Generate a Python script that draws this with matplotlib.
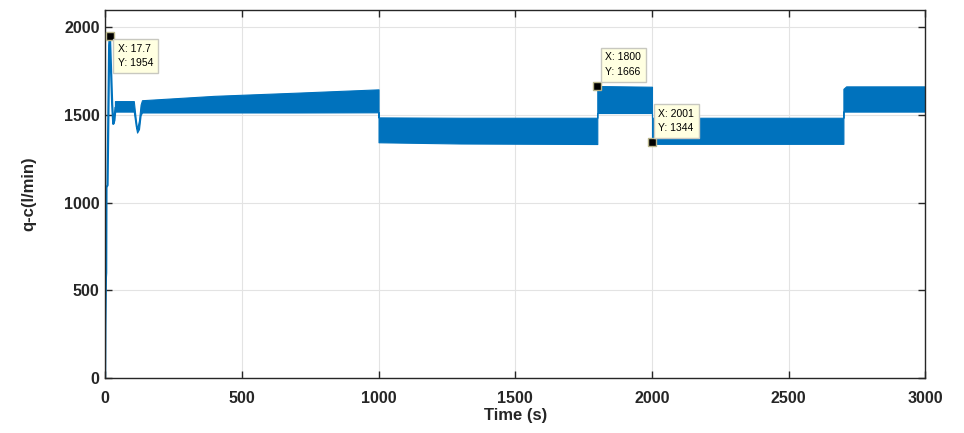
import numpy as np
import matplotlib
matplotlib.use("Agg")
import matplotlib.pyplot as plt

plt.rcParams['font.family'] = ['Liberation Sans', 'DejaVu Sans']

# start-up transient (single line)
t_start = [0, 1, 3, 4, 5, 9, 12, 15, 17.7, 22, 26, 30, 34, 38]
q_start = [0, 300, 575, 600, 1088, 1100, 1500, 1900, 1954, 1750, 1560, 1450, 1470, 1540]

# oscillating part, drawn as band between lower and upper envelope
t_band = [36, 105, 112, 117, 124, 130, 135, 400, 700, 1000, 1000, 1300, 1800,
          1800, 2000, 2000, 2008, 2300, 2700, 2700, 2710, 3000]
q_low = [1520, 1520, 1440, 1400, 1420, 1500, 1515, 1515, 1515, 1516, 1345, 1338, 1335,
         1512, 1512, 1344, 1336, 1336, 1336, 1520, 1520, 1520]
q_high = [1580, 1580, 1480, 1420, 1470, 1560, 1585, 1610, 1628, 1647, 1487, 1485, 1485,
          1666, 1662, 1485, 1485, 1485, 1485, 1650, 1664, 1664]

# data tips: x, y, offset in pixels, vertical alignment
tip_x = [17.7, 1800, 2001]
tip_y = [1954, 1666, 1344]
tip_lbl = ["X: 17.7\nY: 1954", "X: 1800\nY: 1666", "X: 2001\nY: 1344"]
tip_off = [(8, -8), (8, 9), (6, 9)]
tip_va = ['top', 'bottom', 'bottom']

col = '#0072BD'

fig = plt.figure(figsize=(9.64, 4.33), dpi=100)
ax = fig.add_axes([0.109, 0.127, 0.851, 0.850])

ax.plot(t_start, q_start, color=col, lw=1.6)
ax.fill_between(t_band, q_low, q_high, color=col, lw=0.8, edgecolor=col)

for x, y, s, off, va in zip(tip_x, tip_y, tip_lbl, tip_off, tip_va):
    ax.plot(x, y, 's', ms=6, mfc='black', mec='#b8b48a', mew=1, zorder=5)
    ax.annotate(s, (x, y), xytext=off, textcoords='offset pixels', ha='left', va=va,
                fontsize=7.5, linespacing=1.6, zorder=6,
                bbox=dict(boxstyle='square,pad=0.45', fc='#ffffe1', ec='#c8c8c0', lw=1))

ax.set_xlim(0, 3000)
ax.set_ylim(0, 2100)
ax.set_xticks(np.arange(0, 3001, 500))
ax.set_yticks(np.arange(0, 2001, 500))
ax.grid(True, color='#e3e3e3', lw=0.8)
ax.set_axisbelow(True)
ax.tick_params(direction='in', top=True, right=True, length=5, width=1, labelsize=11.5, colors='#262626')
ax.tick_params(axis='x', pad=9)
ax.tick_params(axis='y', pad=4)
for lab in ax.get_xticklabels() + ax.get_yticklabels():
    lab.set_fontweight('bold')
for sp in ax.spines.values():
    sp.set_color('#262626')
    sp.set_linewidth(1)

ax.set_xlabel('Time (s)', fontsize=12, fontweight='bold', color='#262626', labelpad=2)
ax.set_ylabel('q-c(l/min)', fontsize=12, fontweight='bold', color='#262626', labelpad=20)

fig.savefig('out.png', dpi=100)
